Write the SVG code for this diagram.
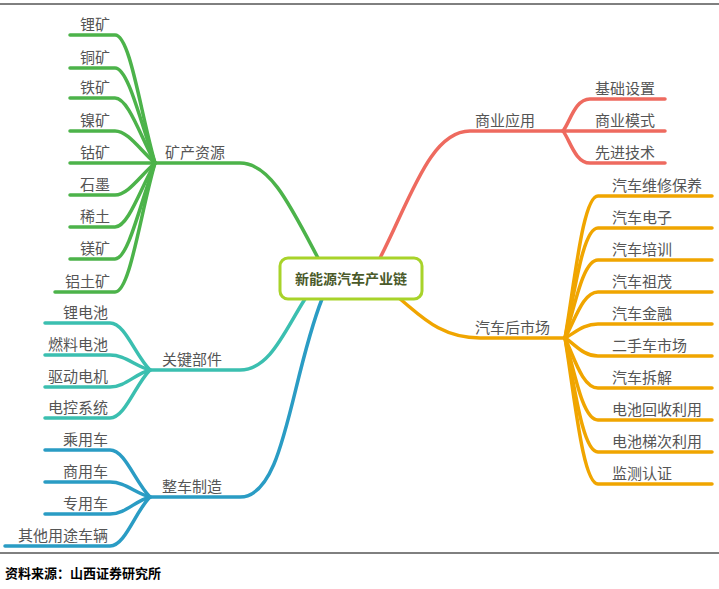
<svg xmlns="http://www.w3.org/2000/svg" width="719" height="589" viewBox="0 0 719 589">
<style>
text{font-family:"Noto Sans CJK SC","Noto Sans",sans-serif;font-size:15px;fill:#555}
.c path{fill:none;stroke-width:3.5;stroke-linecap:round}
.g{stroke:#4cb34a}.t{stroke:#3bbfb0}.b{stroke:#2a9cc4}.r{stroke:#ee6a5f}.o{stroke:#f0a500}
.l text{text-anchor:end}
</style>
<rect width="719" height="589" fill="#fff"/>
<line x1="0" y1="4" x2="719" y2="4" stroke="#000" stroke-width="1"/>
<line x1="0" y1="553" x2="719" y2="553" stroke="#000" stroke-width="1"/>
<text x="5" y="578" style="font-size:13px;fill:#000;font-weight:bold">资料来源：山西证券研究所</text>
<g class="c" id="connectors">
<path class="g" d="M318 258 C290 205 270 163 240 163 H155"/>
<path class="g" d="M70 35 H115 C130 35 140 110 155 163"/>
<path class="g" d="M70 68 H115 C128 68 140 120 155 163"/>
<path class="g" d="M70 98 H115 C128 98 140 135 155 163"/>
<path class="g" d="M70 131 H115 C128 131 140 150 155 163"/>
<path class="g" d="M70 163 H155"/>
<path class="g" d="M70 195 H115 C128 195 140 176 155 163"/>
<path class="g" d="M70 227 H115 C128 227 140 190 155 163"/>
<path class="g" d="M70 259 H115 C128 259 140 205 155 163"/>
<path class="g" d="M55 292 H115 C130 292 140 215 155 163"/>
<path class="t" d="M305 299 C285 330 270 370 240 370 H150"/>
<path class="t" d="M45 323 H110 C125 323 135 355 150 370"/>
<path class="t" d="M45 355 H110 C125 355 135 366 150 370"/>
<path class="t" d="M45 387 H110 C125 387 135 374 150 370"/>
<path class="t" d="M45 418 H110 C125 418 135 385 150 370"/>
<path class="b" d="M322 299 C290 380 285 497 240 497 H150"/>
<path class="b" d="M45 450 H110 C125 450 135 482 150 497"/>
<path class="b" d="M45 482 H110 C125 482 135 493 150 497"/>
<path class="b" d="M45 514 H110 C125 514 135 501 150 497"/>
<path class="b" d="M5 546 H110 C125 546 135 512 150 497"/>
<path class="r" d="M380 258 C410 200 430 131 470 131 H563"/>
<path class="r" d="M590 99 H665 M590 99 C575 99 570 122 563 131"/>
<path class="r" d="M563 131 H665"/>
<path class="r" d="M590 163 H665 M590 163 C575 163 570 140 563 131"/>
<path class="o" d="M400 299 C420 315 440 338 480 338 H565"/>
<path class="o" d="M598 196 H712 M598 196 C583 196 575 280 565 338"/>
<path class="o" d="M598 228 H712 M598 228 C583 228 575 290 565 338"/>
<path class="o" d="M598 260 H712 M598 260 C583 260 575 305 565 338"/>
<path class="o" d="M598 292 H712 M598 292 C583 292 575 320 565 338"/>
<path class="o" d="M598 324 H712 M598 324 C583 324 575 333 565 338"/>
<path class="o" d="M598 356 H712 M598 356 C583 356 575 344 565 338"/>
<path class="o" d="M598 388 H712 M598 388 C583 388 575 360 565 338"/>
<path class="o" d="M598 420 H712 M598 420 C583 420 575 375 565 338"/>
<path class="o" d="M598 452 H712 M598 452 C583 452 575 390 565 338"/>
<path class="o" d="M598 484 H712 M598 484 C583 484 575 400 565 338"/>
</g>
<g id="center"><rect x="280" y="258" width="142" height="41" rx="8" fill="#fff" stroke="#a8d32a" stroke-width="3"/><text x="351" y="284" text-anchor="middle" style="font-size:14px;font-weight:bold;fill:#4a5a2a">新能源汽车产业链</text></g>
<g id="mineral"><text x="165" y="158">矿产资源</text></g>
<g id="parts"><text x="162" y="365">关键部件</text></g>
<g id="vehicle"><text x="162" y="492">整车制造</text></g>
<g id="commerce"><text x="475" y="126">商业应用</text></g>
<g id="after"><text x="475" y="333">汽车后市场</text></g>
<g id="left-leaves" class="l">
<text x="110" y="30">锂矿</text><text x="110" y="63">铜矿</text><text x="110" y="93">铁矿</text><text x="110" y="126">镍矿</text><text x="110" y="158">钴矿</text><text x="110" y="190">石墨</text><text x="110" y="222">稀土</text><text x="110" y="254">镁矿</text><text x="110" y="287">铝土矿</text>
<text x="108" y="318">锂电池</text><text x="108" y="350">燃料电池</text><text x="108" y="382">驱动电机</text><text x="108" y="413">电控系统</text>
<text x="108" y="445">乘用车</text><text x="108" y="477">商用车</text><text x="108" y="509">专用车</text><text x="108" y="541">其他用途车辆</text>
</g>
<g id="right-leaves">
<text x="595" y="94">基础设置</text><text x="595" y="126">商业模式</text><text x="595" y="158">先进技术</text>
<text x="612" y="191">汽车维修保养</text><text x="612" y="223">汽车电子</text><text x="612" y="255">汽车培训</text><text x="612" y="287">汽车祖茂</text><text x="612" y="319">汽车金融</text><text x="612" y="351">二手车市场</text><text x="612" y="383">汽车拆解</text><text x="612" y="415">电池回收利用</text><text x="612" y="447">电池梯次利用</text><text x="612" y="479">监测认证</text>
</g>
</svg>
